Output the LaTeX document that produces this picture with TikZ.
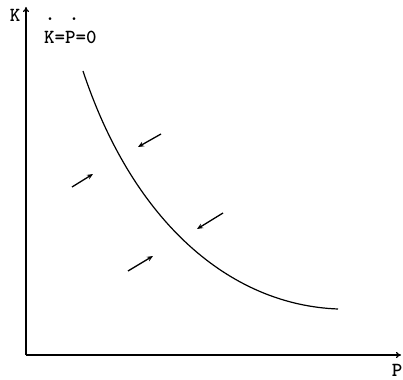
\documentclass[tikz,border=0pt]{standalone}
\usetikzlibrary{arrows.meta}
\begin{document}
\begin{tikzpicture}[x=1pt,y=-1pt,
  axis/.style={line width=1.2pt,-{To[length=5pt,width=6pt]}},
  flow/.style={line width=1.3pt,-{Stealth[length=6pt,width=5pt]}},
  lbl/.style={font=\fontsize{20}{24}\selectfont\ttfamily\bfseries,inner sep=0pt}]
\useasboundingbox (0,0) rectangle (403,379);
\coordinate (O) at (26,355);
\coordinate (Ktop) at (26,7);
\coordinate (Pend) at (401,355);
\draw[axis] (O) -- (Ktop);
\draw[axis] (O) -- (Pend);
\node[lbl,anchor=base] (K) at (15,22) {K};
\node[lbl,anchor=base] (P) at (397,376) {P};
\node[lbl,anchor=base west] (eq) at (44,44) {K=P=0};
\node[lbl,anchor=base] (d1) at (50,21) {.};
\node[lbl,anchor=base] (d2) at (74,21) {.};
\coordinate (c0) at (83,71);
\coordinate (c1) at (338,309);
\draw[line width=1.2pt] (c0) .. controls (133,222) and (230,305) .. (c1);
\draw[flow] (161,134) -- (138,147);
\draw[flow] (72,187) -- (93,174);
\draw[flow] (223,213) -- (197,229);
\draw[flow] (128,271) -- (153,256);
\end{tikzpicture}
\end{document}
